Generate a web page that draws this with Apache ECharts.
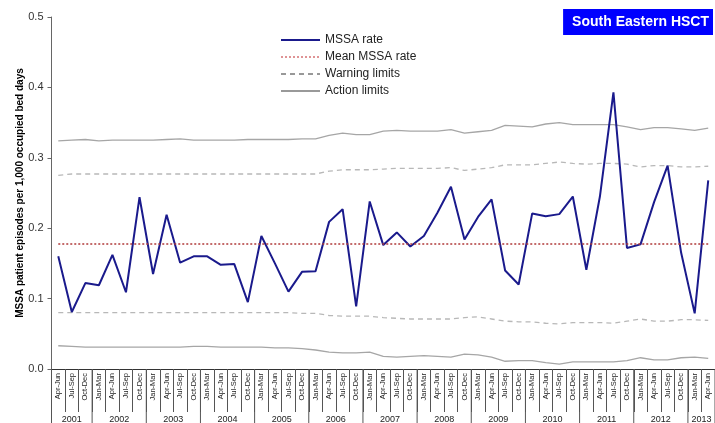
<!DOCTYPE html>
<html>
<head>
<meta charset="utf-8">
<script src="https://cdn.jsdelivr.net/npm/echarts@6/dist/echarts.min.js"></script>
<style>
html,body{margin:0;padding:0;background:#fff;}
#chart{width:715px;height:423px;}
</style>
</head>
<body>
<div id="chart"></div>
<script>
const quarters = ['Apr-Jun','Jul-Sep','Oct-Dec',
  'Jan-Mar','Apr-Jun','Jul-Sep','Oct-Dec',
  'Jan-Mar','Apr-Jun','Jul-Sep','Oct-Dec',
  'Jan-Mar','Apr-Jun','Jul-Sep','Oct-Dec',
  'Jan-Mar','Apr-Jun','Jul-Sep','Oct-Dec',
  'Jan-Mar','Apr-Jun','Jul-Sep','Oct-Dec',
  'Jan-Mar','Apr-Jun','Jul-Sep','Oct-Dec',
  'Jan-Mar','Apr-Jun','Jul-Sep','Oct-Dec',
  'Jan-Mar','Apr-Jun','Jul-Sep','Oct-Dec',
  'Jan-Mar','Apr-Jun','Jul-Sep','Oct-Dec',
  'Jan-Mar','Apr-Jun','Jul-Sep','Oct-Dec',
  'Jan-Mar','Apr-Jun','Jul-Sep','Oct-Dec',
  'Jan-Mar','Apr-Jun'];
const yearNames = ['2001','2002','2003','2004','2005','2006','2007','2008','2009','2010','2011','2012','2013'];
const quartersPerYear = [3,4,4,4,4,4,4,4,4,4,4,4,2];

const mssaRate = [0.160,0.081,0.122,
  0.119,0.162,0.109,0.244,
  0.135,0.219,0.151,0.160,
  0.160,0.148,0.149,0.095,
  0.189,0.150,0.110,0.138,
  0.139,0.209,0.227,0.089,
  0.238,0.176,0.194,0.174,
  0.189,0.222,0.259,0.184,
  0.216,0.241,0.140,0.120,
  0.221,0.217,0.220,0.245,
  0.141,0.245,0.393,0.172,
  0.177,0.237,0.289,0.165,
  0.079,0.268];
const meanRate = 0.178;
const actionUpper = [0.324,0.325,0.326,0.324,0.325,0.325,0.325,0.325,0.326,0.327,
  0.325,0.325,0.325,0.325,0.326,0.326,0.326,0.326,0.327,0.327,
  0.332,0.335,0.333,0.333,0.338,0.339,0.338,0.338,0.338,0.340,
  0.335,0.337,0.339,0.346,0.345,0.344,0.348,0.350,0.347,0.347,
  0.347,0.347,0.344,0.340,0.343,0.343,0.341,0.339,0.342];
const warningUpper = [0.275,0.277,0.277,0.277,0.277,0.277,0.277,0.277,0.277,0.277,
  0.277,0.277,0.277,0.277,0.277,0.277,0.277,0.277,0.277,0.277,
  0.281,0.283,0.283,0.283,0.284,0.285,0.285,0.285,0.285,0.286,
  0.282,0.284,0.286,0.290,0.290,0.290,0.292,0.294,0.292,0.291,
  0.292,0.292,0.291,0.287,0.289,0.289,0.287,0.287,0.288];
const warningLower = [0.080,0.080,0.080,0.080,0.080,0.080,0.080,0.080,0.080,0.080,
  0.080,0.080,0.080,0.080,0.080,0.080,0.080,0.080,0.079,0.079,
  0.076,0.075,0.075,0.075,0.073,0.072,0.071,0.071,0.071,0.071,
  0.073,0.074,0.071,0.068,0.067,0.067,0.065,0.064,0.066,0.066,
  0.066,0.065,0.068,0.071,0.068,0.068,0.070,0.070,0.069];
const actionLower = [0.033,0.032,0.031,0.031,0.031,0.031,0.031,0.031,0.031,0.031,
  0.032,0.032,0.031,0.031,0.031,0.031,0.030,0.030,0.029,0.027,
  0.024,0.023,0.023,0.024,0.018,0.017,0.018,0.019,0.018,0.017,
  0.021,0.020,0.017,0.011,0.012,0.012,0.009,0.007,0.010,0.010,
  0.010,0.010,0.012,0.016,0.013,0.013,0.016,0.017,0.015];
const yTicks = [0, 0.1, 0.2, 0.3, 0.4, 0.5];

const FONT = '"Liberation Sans", Arial, sans-serif';

// year spans [startIndex, endIndex]
const yearSpans = [];
let startIdx = 0;
quartersPerYear.forEach(function (n) {
  yearSpans.push([startIdx, startIdx + n - 1, 0]);
  startIdx += n;
});

const chart = echarts.init(document.getElementById('chart'), null, {renderer: 'canvas'});

const actionStyle = {color: '#a6a6a6', width: 1.3, type: 'solid'};
const warningStyle = {color: '#b8b8b8', width: 1.3, type: [5, 4]};
const meanStyle = {color: '#c0282d', width: 1.4, type: [2, 2]};
const hiddenSymbol = {opacity: 0, color: 'transparent', borderWidth: 0};

chart.setOption({
  animation: false,
  backgroundColor: '#fff',
  textStyle: {fontFamily: FONT},
  title: {
    text: 'South Eastern HSCT',
    right: 2, top: 9,
    backgroundColor: '#0000ff',
    padding: [6, 4, 6, 9],
    textStyle: {color: '#fff', fontSize: 14, fontWeight: 'bold', fontFamily: FONT}
  },
  legend: {
    orient: 'vertical',
    left: 280, top: 34,
    padding: 0,
    itemWidth: 39, itemHeight: 12, itemGap: 5,
    textStyle: {fontSize: 12, color: '#222', fontFamily: FONT},
    selectedMode: false,
    data: [
      {name: 'MSSA rate', itemStyle: hiddenSymbol, lineStyle: {color: '#1a1a8c', width: 2, type: 'solid'}},
      {name: 'Mean MSSA rate', itemStyle: hiddenSymbol, lineStyle: {color: '#c0282d', width: 1.2, type: [2, 2]}},
      {name: 'Warning limits', itemStyle: hiddenSymbol, lineStyle: {color: '#333', width: 1, type: [5, 4]}},
      {name: 'Action limits', itemStyle: hiddenSymbol, lineStyle: {color: '#777', width: 1.3, type: 'solid'}}
    ]
  },
  grid: {left: 51.5, right: 0, top: 17, bottom: 54},
  xAxis: {
    type: 'category',
    data: quarters,
    boundaryGap: true,
    axisLine: {show: true, lineStyle: {color: '#333', width: 1}},
    axisTick: {show: true, interval: 0, length: 43, lineStyle: {color: '#555', width: 1}},
    axisLabel: {interval: 0, rotate: 90, fontSize: 7.5, margin: 4, color: '#222', fontFamily: FONT},
    splitLine: {show: false}
  },
  yAxis: {
    type: 'value',
    min: yTicks[0], max: yTicks[yTicks.length - 1], interval: 0.1,
    name: 'MSSA patient episodes per 1,000 occupied bed days',
    nameLocation: 'middle',
    nameGap: 26,
    nameMoveOverlap: false,
    nameTextStyle: {fontSize: 10, fontWeight: 'bold', color: '#000', fontFamily: FONT},
    axisLine: {show: true, lineStyle: {color: '#666', width: 1}},
    axisTick: {show: true, length: 4, lineStyle: {color: '#666'}},
    axisLabel: {formatter: function (v) { return v.toFixed(1); }, fontSize: 11, color: '#333', margin: 8, fontFamily: FONT},
    splitLine: {show: false}
  },
  series: [
    {name: 'Action limits', type: 'line', data: actionUpper, symbol: 'none', lineStyle: actionStyle, z: 1},
    {name: 'Action limits', type: 'line', data: actionLower, symbol: 'none', lineStyle: actionStyle, z: 1},
    {name: 'Warning limits', type: 'line', data: warningUpper, symbol: 'none', lineStyle: warningStyle, z: 1},
    {name: 'Warning limits', type: 'line', data: warningLower, symbol: 'none', lineStyle: warningStyle, z: 1},
    {
      name: 'Mean MSSA rate', type: 'line', data: [], symbol: 'none',
      itemStyle: {color: '#c0282d'},
      lineStyle: meanStyle,
      markLine: {
        silent: true, symbol: 'none', label: {show: false},
        lineStyle: {color: '#b03a3a', width: 1.6, type: [2, 2]},
        data: [[{coord: [0, meanRate]}, {coord: [quarters.length - 1, meanRate]}]]
      },
      z: 2
    },
    {name: 'MSSA rate', type: 'line', data: mssaRate, symbol: 'none',
      lineStyle: {color: '#1a1a8c', width: 2}, z: 3},
    {
      name: 'years', type: 'custom', clip: false, silent: true,
      data: yearSpans,
      encode: {x: 0, y: 2},
      renderItem: function (params, api) {
        const s = api.value(0), e = api.value(1);
        const bw = api.size([1, 0])[0];
        const p0 = api.coord([s, 0]);
        const p1 = api.coord([e, 0]);
        const x0 = p0[0] - bw / 2, x1 = p1[0] + bw / 2, y = p0[1];
        const children = [
          {type: 'line', shape: {x1: x1, y1: y, x2: x1, y2: y + 60}, style: {stroke: '#555', lineWidth: 1}},
          {type: 'text', x: (x0 + x1) / 2, y: y + 51,
            style: {text: yearNames[params.dataIndex], fill: '#222', font: '9px ' + FONT, align: 'center', verticalAlign: 'middle'}}
        ];
        if (params.dataIndex === 0) {
          children.push({type: 'line', shape: {x1: x0, y1: y, x2: x0, y2: y + 60}, style: {stroke: '#555', lineWidth: 1}});
        }
        return {type: 'group', children: children};
      },
      z: 5
    }
  ]
});
</script>
</body>
</html>
